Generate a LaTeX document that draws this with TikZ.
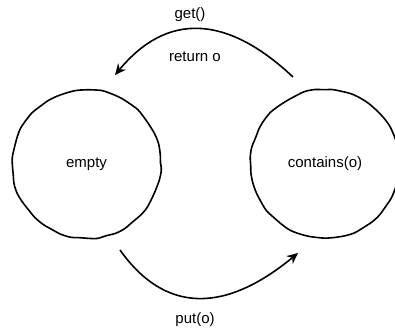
\documentclass[tikz,border=0pt]{standalone}
\usepackage{fontspec}
\setmainfont{Liberation Sans}
\usetikzlibrary{decorations.pathmorphing,arrows.meta}
\begin{document}
\begin{tikzpicture}[x=1pt,y=-1pt,
  lbl/.style={font=\fontsize{15}{18}\selectfont, inner sep=0pt},
  statenode/.style={circle, minimum size=148pt, inner sep=0pt,
    font=\fontsize{15}{18}\selectfont, draw, line width=1.6pt,
    decorate, decoration={random steps, segment length=10pt, amplitude=0.8pt},
    rounded corners=3pt},
  conn/.style={line width=1.6pt, -{Stealth[length=11pt,width=10pt]}}]
\pgfmathsetseed{7}
\useasboundingbox (0,0) rectangle (395,330);
\node[statenode] (empty) at (86.5,164) {empty};
\node[statenode] (contains) at (325,164) {contains(o)};
\coordinate (getfrom) at (293,77);
\coordinate (getto) at (115,75);
\coordinate (putfrom) at (120,250);
\coordinate (putto) at (298,253);
\draw[conn] (getfrom) .. controls (225.7,13.7) and (166.3,13) .. (getto);
\draw[conn] (putfrom) .. controls (164.7,313) and (224,314) .. (putto);
\node[lbl] (get) at (190,15) {get()};
\node[lbl] (ret) at (195,57) {return o};
\node[lbl] (put) at (195,320) {put(o)};
\end{tikzpicture}
\end{document}
